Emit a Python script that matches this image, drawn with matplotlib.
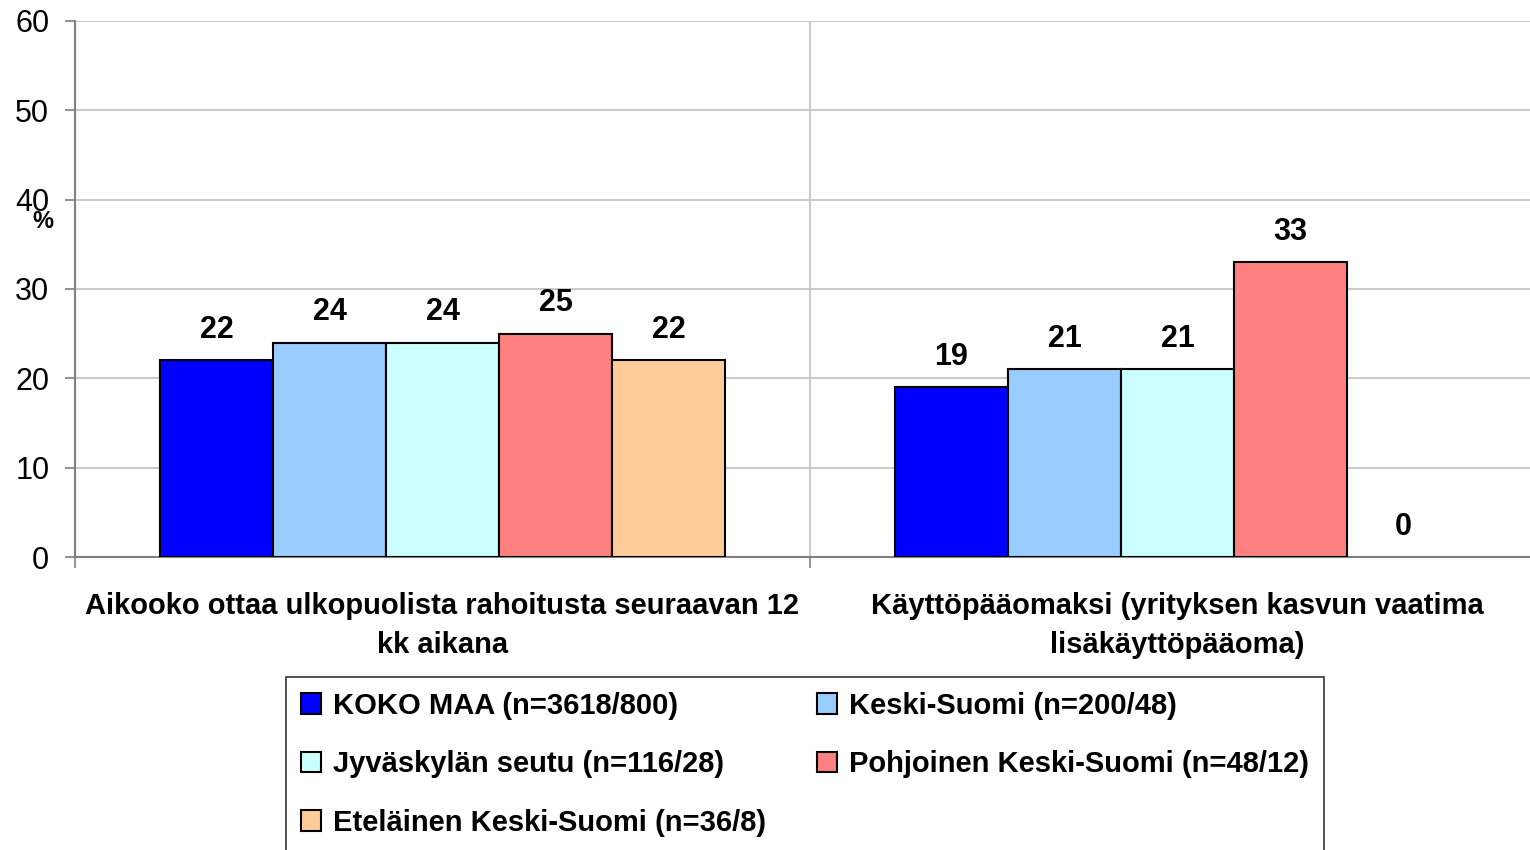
import matplotlib.pyplot as plt
import numpy as np

plt.rcParams['font.family'] = ['Liberation Sans', 'DejaVu Sans']

categories = ['Aikooko ottaa ulkopuolista rahoitusta seuraavan 12\nkk aikana',
              'Käyttöpääomaksi (yrityksen kasvun vaatima\nlisäkäyttöpääoma)']
series_names = ['KOKO MAA (n=3618/800)', 'Keski-Suomi (n=200/48)',
                'Jyväskylän seutu (n=116/28)', 'Pohjoinen Keski-Suomi (n=48/12)',
                'Eteläinen Keski-Suomi (n=36/8)']
values = [
    [22, 19],
    [24, 21],
    [24, 21],
    [25, 33],
    [22, 0],
]
colors = ['#0000FF', '#99CCFF', '#CCFFFF', '#FF8080', '#FFCC99']
y_ticks = [0, 10, 20, 30, 40, 50, 60]

fig = plt.figure(figsize=(15.3, 8.5), dpi=100)
ax = fig.add_axes([0.049, 0.3447, 0.9608, 0.6306])

x = np.arange(len(categories))
width = 0.1537
handles = []
for i, (name, vals) in enumerate(zip(series_names, values)):
    pos = x + (i - 2) * width
    bars = ax.bar(pos, vals, width, color=colors[i], edgecolor='black', linewidth=1.5,
                  label=name, zorder=3)
    handles.append(bars)
    # zero-height bars show no outline in the original
    for patch in bars:
        if patch.get_height() == 0:
            patch.set_linewidth(0)
    for xp, v in zip(pos, vals):
        ax.annotate(f'{v}', (xp, v), xytext=(0, 11), textcoords='offset points',
                    ha='center', va='bottom', fontsize=22, fontweight='bold')

ax.set_xlim(-0.5, 1.5)
ax.set_ylim(0, 60)
ax.set_yticks(y_ticks)
ax.tick_params(axis='y', labelsize=22, length=7.5, width=1.2, color='#808080', pad=11)
ax.yaxis.grid(True, color='#C0C0C0', linewidth=1.2, zorder=0)

ax.set_xticks(x)
ax.set_xticklabels(categories, fontsize=21, fontweight='bold', linespacing=1.5)
ax.tick_params(axis='x', which='major', length=0, pad=25)
ax.set_xticks([-0.5, 0.5, 1.5], minor=True)
ax.tick_params(axis='x', which='minor', length=8, width=1.2, color='#808080')
ax.axvline(0.5, color='#C0C0C0', linewidth=1.2, zorder=0)

for side in ['top', 'right']:
    ax.spines[side].set_visible(False)
for side in ['left', 'bottom']:
    ax.spines[side].set_color('#808080')
    ax.spines[side].set_linewidth(1.5)

fig.text(43 / 1530, 1 - 222 / 850, '%', fontsize=17, fontweight='bold', ha='center', va='center')

order = [0, 2, 4, 1, 3]
leg = fig.legend([handles[k] for k in order], [series_names[k] for k in order],
                 loc='upper left', bbox_to_anchor=(286 / 1530, 1 - 677 / 850),
                 ncol=2, frameon=True, fancybox=False, edgecolor='black',
                 prop={'size': 21, 'weight': 'bold'},
                 handlelength=0.7, handleheight=0.7, handletextpad=0.4,
                 labelspacing=1.05, columnspacing=1.75, borderpad=0.5, borderaxespad=0)
leg.get_frame().set_linewidth(1.2)

fig.savefig('out.png', dpi=100)
